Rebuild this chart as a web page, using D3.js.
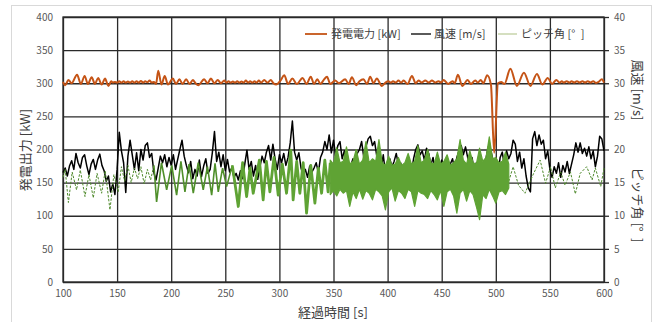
<!DOCTYPE html>
<html>
<head>
<meta charset="utf-8">
<script src="https://cdn.jsdelivr.net/npm/d3@7"></script>
<style>
  html, body { margin: 0; padding: 0; background: #fff; }
  svg { display: block; font-family: "Noto Sans CJK JP", "Noto Sans", sans-serif; }
</style>
</head>
<body>
<svg id="chart" width="659" height="322"></svg>
<script>
// ---- data ----
const xTicks = [100, 150, 200, 250, 300, 350, 400, 450, 500, 550, 600];
const leftTicks = [0, 50, 100, 150, 200, 250, 300, 350, 400];
const rightTicks = [0, 5, 10, 15, 20, 25, 30, 35, 40];
const seriesNames = ["発電電力 [kW]", "風速 [m/s]", "ピッチ角 [°\u2002]"];

// power output [kW], turning points (time s, value)
const powerT = [
  100,102,105,108,113,116.5,120,123,126.5,129.5,
  132.5,135.7,138.8,142,144.5,146,148,150,152,154,
  156,158,160,162,164,166,168,170,172,174,
  176,178,180,182,184,186,188,191,194,197,
  201.5,204.5,207.6,210.5,213.8,217,220,222.5,225,230.5,
  233.5,236.7,240,243,246,249,251,253,255,257,
  259,261,263,265,267,269,271,273,275,277,
  279,281,283,286,289,292,294.5,297,301,304.5,
  308,312,316,321.5,325,329,332,335,338,341,
  344,347,351.6,355,360.8,364,367,371,374,377.7,
  381,383.9,387,390,394.7,398,400.8,403,405,407.5,
  410,412.5,414.8,418.5,422.5,426,428.6,431.5,434.8,438,
  441,444,447,449.5,451.7,456,460,462,465,469,
  474,477,481,483.5,486,488.5,492,495.5,498.5,502,
  505,508,513.5,519.5,526,532,538,543,548,552,
  556,559,561,563,565.5,568,570,572.5,575,577.5,
  580,582.5,585,587.5,590,592.5,595,598,600
];
const powerV = [
  302,297,305,300,313,299,311,299,309,299,
  308,298,307,296,303,301,302,301,303,301,
  303,301,302.5,301,303,301,303,301,303.5,301,
  303,301.5,304,301,302,299,319,298,311,298,
  307,299,306,299,306,299,305,300,297,306,
  300,307,300,305,300,304,301,303,301,302.5,
  301,303,301,302.5,301,304,301,303,301,303,
  301,304,301,305,301,305,300,298,304,312,
  299,307,299,308,299,310,299,306,299,305,
  310,299,304,300,306,299,309,297,303,306,
  299,310,300,307,296,301,303,301,303,301,
  304,301,304,299,311,300,304,301,304,301,
  304,301,303,301,305,299,303,300,313,296,
  305,299,304,301,305,300,312,298,195,300,
  302,299,322,296,316,296,314,298,308,299,
  305,301,303,301,303,301,303,301,303,301,
  303,301,303,301,303,300.5,302,306,301
];

// wind speed [m/s], every 2 s from 100 s
const windStart = 100, windStep = 2;
const windV = [
  16.5,17.2,16.0,17.5,18.3,17.0,19.4,18.0,17.2,18.8,19.2,17.5,16.2,17.8,18.5,17.0,18.4,19.3,17.6,16.8,15.2,16.0,13.6,14.8,13.2,17.0,
  22.6,19.8,18.0,13.5,19.0,21.4,19.2,17.0,19.5,16.8,20.0,18.4,20.6,21.0,18.8,19.4,16.5,15.4,17.2,19.0,18.0,19.2,17.4,18.8,17.6,
  19.2,17.0,18.5,20.0,21.4,19.0,17.6,16.5,18.2,15.6,17.0,16.0,18.4,15.9,17.5,18.6,16.4,17.0,19.5,22.7,18.2,19.6,17.4,19.2,16.8,
  18.5,16.6,17.2,15.8,16.4,15.4,16.8,15.6,17.8,19.9,17.0,18.2,16.0,17.6,15.5,17.4,19.0,18.0,19.6,20.6,18.4,20.8,18.6,17.0,19.2,
  18.0,19.4,17.6,18.8,21.0,24.3,19.6,18.4,19.5,17.2,16.0,17.0,15.8,17.5,16.6,17.2,18.0,16.5,18.8,19.6,21.2,20.0,22.2,19.5,21.4,
  19.0,20.6,21.2,18.6,19.8,18.2,16.8,17.6,18.6,17.2,19.4,20.0,21.2,18.8,20.4,21.6,22.0,20.6,21.2,19.0,18.4,17.0,19.2,16.4,17.8,
  18.6,17.4,18.2,19.4,17.6,18.0,16.8,17.6,16.2,17.4,16.6,18.6,20.0,20.7,19.2,19.8,18.4,20.2,19.4,17.6,18.8,16.8,18.6,17.2,18.4,
  17.0,18.2,16.4,17.8,18.6,17.0,18.8,19.8,20.6,19.2,20.4,18.8,17.6,18.8,16.8,18.0,17.2,18.6,16.2,17.8,19.6,20.9,19.4,18.0,17.0,
  16.0,18.8,19.6,17.4,19.8,18.6,19.4,21.4,20.8,18.2,19.6,17.2,18.6,16.0,14.2,13.6,21.6,22.7,20.6,22.2,20.8,21.4,18.6,19.8,17.0,
  15.8,17.4,16.4,18.0,15.8,17.6,16.6,18.2,16.4,17.8,19.2,21.0,19.6,21.0,19.4,20.2,19.0,20.4,18.6,19.8,17.4,19.0,22.0,21.6,19.8
];

// pitch angle [deg], turning points outside the dense band
const pitchT = [
  100,102,105,108.5,112.5,116,120.3,124,128,131.5,135.7,139,143.4,147,151,154,157,160,163,166,169,172,175,178,181,184,
  186.5,191,195.8,200.5,205,209,212.7,216.5,220.4,225,229.6,233.5,237.4,240.5,243.5,247.5,251.2,256.5,262,266,
  269.7,272.8,275.8,281.5,285,288,291.2,295,298.9,302.7,306.6,310.5,312.7,316,318.9,322,325.1,329,332.8,336,339,342,345,347,
  512,516,521,527,535,541,546,550.6,555,560,564,569,573.5,578,584,589,592,597,600
];
const pitchV = [
  15.8,17.0,12.0,16.6,13.9,16.9,12.9,16.2,12.7,16.4,13.4,16.8,10.9,16.2,13.6,17.4,15.2,17.6,15.0,17.2,15.6,17.4,14.8,17.0,15.4,17.6,
  12.1,18.0,13.9,17.6,13.1,18.2,13.6,17.8,13.4,18.0,13.9,17.4,13.1,17.9,13.6,17.2,14.4,17.6,11.4,18.0,
  12.9,17.2,13.4,18.4,12.4,18.2,13.6,18.8,13.1,17.8,13.4,19.9,12.4,18.2,13.4,18.0,10.4,17.6,11.9,17.2,13.4,18.4,13.6,18.0,
  15.2,17.4,14.6,13.4,16.4,18.4,14.9,17.4,14.2,16.6,14.6,16.6,13.3,16.4,17.4,15.4,17.2,14.4,17.2
];

// pitch angle dense oscillation band (every 3 s from 347 s): upper / lower envelope
const bandStart = 347, bandStep = 3;
const bandHi = [
  18.4,17.8,20.3,18.0,18.2,20.4,17.8,18.2,20.0,17.8,
  18.4,21.2,18.0,18.6,18.2,21.5,18.0,17.6,19.0,17.6,
  17.8,18.8,17.6,18.0,19.4,17.8,18.2,20.6,18.0,18.4,
  20.0,18.0,17.8,19.6,17.8,18.2,19.2,17.6,18.0,18.6,
  21.5,18.4,17.8,19.8,18.0,17.8,20.2,18.2,18.8,21.9,
  18.6,18.8,18.0,18.2,19.6,17.8
];
const bandLo = [
  13.2,13.8,13.0,14.0,13.4,13.8,11.4,13.6,12.6,14.0,
  12.5,13.8,13.4,12.4,14.0,13.6,13.0,10.9,13.6,14.2,
  12.2,13.8,13.4,12.6,14.0,13.6,11.4,13.8,13.4,13.2,
  12.6,13.8,13.2,12.4,13.8,11.4,13.6,14.0,13.0,10.4,
  13.4,14.0,12.2,13.8,13.2,11.4,9.4,13.2,12.6,14.0,
  13.0,11.9,13.6,13.8,13.2,14.2
];

// ---- layout ----
const svg = d3.select("#chart");
const plot = { left: 63, right: 604, top: 17, bottom: 282 };
const x = d3.scaleLinear().domain([100, 600]).range([plot.left, plot.right]);
const yL = d3.scaleLinear().domain([0, 400]).range([plot.bottom, plot.top]);
const yR = d3.scaleLinear().domain([0, 40]).range([plot.bottom, plot.top]);

const gridColor = "#2a2a2a";
const tickColor = "#595959";
const titleColor = "#404040";

// outer chart border
svg.append("rect")
  .attr("x", 11.5).attr("y", 5.5)
  .attr("width", 640).attr("height", 330)
  .attr("fill", "none").attr("stroke", "#d9d9d9");

// horizontal gridlines + left labels
const gLeft = svg.append("g")
  .attr("transform", `translate(${plot.left},0)`)
  .call(d3.axisLeft(yL).tickValues(leftTicks).tickSize(-(plot.right - plot.left)).tickPadding(10));
// vertical gridlines + bottom labels
const gBottom = svg.append("g")
  .attr("transform", `translate(0,${plot.bottom})`)
  .call(d3.axisBottom(x).tickValues(xTicks).tickSize(-(plot.bottom - plot.top)).tickPadding(8));
// right axis
const gRight = svg.append("g")
  .attr("transform", `translate(${plot.right},0)`)
  .call(d3.axisRight(yR).tickValues(rightTicks).tickSize(5).tickPadding(5));

[gLeft, gBottom, gRight].forEach(g => {
  g.select(".domain").remove();
  g.selectAll(".tick line").attr("stroke", gridColor).attr("stroke-width", 1.3);
  g.selectAll(".tick text").attr("fill", tickColor).style("font-size", "10px")
    .style("font-family", "'Noto Sans CJK JP', sans-serif");
});

svg.append("rect")
  .attr("x", plot.left).attr("y", plot.top)
  .attr("width", plot.right - plot.left).attr("height", plot.bottom - plot.top)
  .attr("fill", "none").attr("stroke", gridColor).attr("stroke-width", 1.3);

// ---- series ----
const windData = windV.map((v, i) => [windStart + i * windStep, v]);
const pitchData = pitchT.map((t, i) => [t, pitchV[i]]);
const bandData = bandHi.map((h, i) => [bandStart + i * bandStep, h, bandLo[i]]);
const powerData = powerT.map((t, i) => [t, powerV[i]]);

const lineR = d3.line().x(d => x(d[0])).y(d => yR(d[1]));

// wind speed
svg.append("path")
  .datum(windData)
  .attr("d", lineR)
  .attr("fill", "none").attr("stroke", "#000").attr("stroke-width", 1.5)
  .attr("stroke-linejoin", "round");

// pitch angle: thin dashed parts
const pitchThin = "#4f8a2c", pitchThick = "#5fa334";
[[100, 184], [512, 600]].forEach(([a, b]) => {
  svg.append("path")
    .datum(pitchData.filter(d => d[0] >= a && d[0] <= b))
    .attr("d", lineR)
    .attr("fill", "none").attr("stroke", pitchThin).attr("stroke-width", 1)
    .attr("stroke-dasharray", "2.5,1.5");
});
// solid parts
svg.append("path")
  .datum(pitchData.filter(d => d[0] >= 184 && d[0] <= 258))
  .attr("d", lineR)
  .attr("fill", "none").attr("stroke", "#4f8f2a").attr("stroke-width", 1.6);
svg.append("path")
  .datum(pitchData.filter(d => d[0] >= 256 && d[0] <= 347))
  .attr("d", lineR)
  .attr("fill", "none").attr("stroke", pitchThick).attr("stroke-width", 2.8)
  .attr("stroke-linejoin", "round");
// dense band
svg.append("path")
  .datum(bandData)
  .attr("d", d3.area().x(d => x(d[0])).y0(d => yR(d[2])).y1(d => yR(d[1])))
  .attr("fill", pitchThick).attr("stroke", pitchThick).attr("stroke-width", 1.2)
  .attr("stroke-linejoin", "round");

// power
svg.append("path")
  .datum(powerData)
  .attr("d", d3.line().x(d => x(d[0])).y(d => yL(d[1])).curve(d3.curveMonotoneX))
  .attr("fill", "none").attr("stroke", "#c55416").attr("stroke-width", 2);

// ---- legend ----
const legendItems = [
  { name: seriesNames[0], color: "#c55416", x1: 305, x2: 327, tx: 331, w: 1.8 },
  { name: seriesNames[1], color: "#000", x1: 411, x2: 431, tx: 434, w: 1.3 },
  { name: seriesNames[2], color: "#b9c995", x1: 498, x2: 517, tx: 521, w: 1.2 }
];
const lg = svg.append("g");
legendItems.forEach(it => {
  lg.append("line").attr("x1", it.x1).attr("x2", it.x2).attr("y1", 34).attr("y2", 34)
    .attr("stroke", it.color).attr("stroke-width", it.w);
  lg.append("text").attr("x", it.tx).attr("y", 38)
    .attr("fill", titleColor).style("font-size", "11px").text(it.name);
});

// ---- axis titles ----
svg.append("text")
  .attr("transform", "translate(30,150) rotate(-90)")
  .attr("text-anchor", "middle").attr("fill", titleColor).style("font-size", "13px")
  .text("発電出力 [kW]");
svg.append("text")
  .attr("x", 333).attr("y", 317)
  .attr("text-anchor", "middle").attr("fill", titleColor).style("font-size", "13px")
  .text("経過時間 [s]");
svg.append("text")
  .attr("transform", "translate(633,90) rotate(90)")
  .attr("text-anchor", "middle").attr("fill", titleColor).style("font-size", "13px")
  .text("風速 [m/s]");
svg.append("text")
  .attr("transform", "translate(633,205) rotate(90)")
  .attr("text-anchor", "middle").attr("fill", titleColor).style("font-size", "13px")
  .text("ピッチ角 [°\u2002]");
</script>
</body>
</html>
